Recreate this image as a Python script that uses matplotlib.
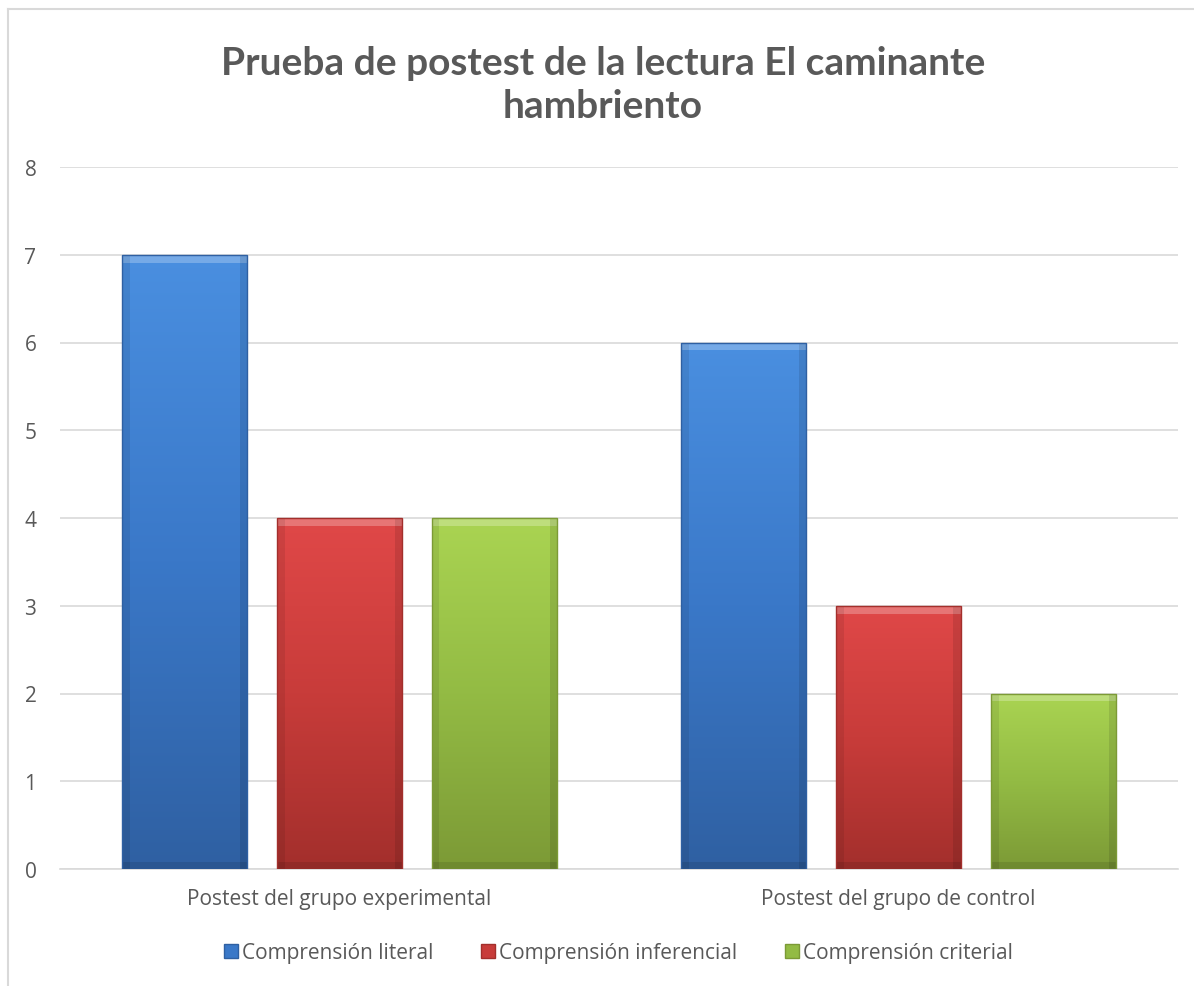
import numpy as np
import matplotlib
matplotlib.use("Agg")
import matplotlib.pyplot as plt
from matplotlib.patches import Rectangle, Patch
from matplotlib.lines import Line2D
import matplotlib.colors as mcolors

categories = ["Postest del grupo experimental", "Postest del grupo de control"]
series_names = ["Comprensión literal", "Comprensión inferencial", "Comprensión criterial"]
literal = [7, 6]
inferencial = [4, 3]
criterial = [4, 2]
series_values = [literal, inferencial, criterial]

top_colors = ["#4a8fe0", "#e04848", "#aad452"]
mid_colors = ["#3a78c8", "#c83c3a", "#93bb44"]
bottom_colors = ["#2f60a2", "#a32f2c", "#7c9a36"]

plt.rcParams['font.family'] = ['Open Sans', 'DejaVu Sans']

fig = plt.figure(figsize=(11.94, 9.87), dpi=100)

# chart frame (only left and top edges are visible in the crop)
fig.lines.append(Line2D([8 / 1194, 8 / 1194], [0, 1 - 10 / 987], transform=fig.transFigure,
                        color="#d9d9d9", linewidth=1.5))
fig.lines.append(Line2D([8 / 1194, 1], [1 - 10 / 987, 1 - 10 / 987], transform=fig.transFigure,
                        color="#d9d9d9", linewidth=1.5))

ax = fig.add_axes([60 / 1194, (987 - 870) / 987, 1118 / 1194, (870 - 168) / 987])
ax.set_xlim(0, 2)
ax.set_ylim(0, 8)

bar_w = 125 / 559
step = 155 / 559
x = np.arange(len(categories)) + 0.5


def gradient_bar(ax, x0, w, h, ctop, cmid, cbot):
    rect = Rectangle((x0, 0), w, h, facecolor=cmid, edgecolor="none", zorder=3)
    ax.add_patch(rect)
    cmap = mcolors.LinearSegmentedColormap.from_list("g", [cbot, cmid, ctop])
    grad = np.linspace(0, 1, 256).reshape(-1, 1)
    im = ax.imshow(grad, extent=(x0, x0 + w, 0, h), origin="lower", aspect="auto",
                   cmap=cmap, zorder=3.1)
    im.set_clip_path(rect)
    # bevel look
    ax.add_patch(Rectangle((x0, h - 0.09), w, 0.09, facecolor="white", alpha=0.25,
                           edgecolor="none", zorder=3.2))
    ax.add_patch(Rectangle((x0, 0), w * 0.06, h, facecolor="black", alpha=0.08,
                           edgecolor="none", zorder=3.2))
    ax.add_patch(Rectangle((x0 + w * 0.94, 0), w * 0.06, h, facecolor="black", alpha=0.1,
                           edgecolor="none", zorder=3.2))
    ax.add_patch(Rectangle((x0, 0), w, 0.08, facecolor="black", alpha=0.1,
                           edgecolor="none", zorder=3.2))
    ax.add_patch(Rectangle((x0, 0), w, h, fill=False, edgecolor=cbot, linewidth=1,
                           zorder=3.3))


for i, vals in enumerate(series_values):
    for j, v in enumerate(vals):
        x0 = x[j] + (i - 1) * step - bar_w / 2
        gradient_bar(ax, x0, bar_w, v, top_colors[i], mid_colors[i], bottom_colors[i])

ax.set_yticks(range(0, 9))
ax.yaxis.grid(True, color="#d9d9d9", linewidth=1.2)
ax.set_axisbelow(True)
ax.set_xticks(x)
ax.set_xticklabels(categories)
for s in ["top", "right", "left"]:
    ax.spines[s].set_visible(False)
ax.spines["bottom"].set_color("#d9d9d9")
ax.spines["bottom"].set_linewidth(1.2)
ax.tick_params(axis="both", length=0, labelsize=15, colors="#595959")
ax.tick_params(axis="x", pad=14)
ax.tick_params(axis="y", pad=17)

fig.text(0.505, 1 - 85 / 987, "Prueba de postest de la lectura El caminante\nhambriento",
         ha="center", va="center", fontsize=28, fontweight="bold", color="#595959",
         linespacing=1.3, family=["Lato", "DejaVu Sans"])

handles = [Patch(facecolor=mid_colors[i], edgecolor=bottom_colors[i]) for i in range(3)]
fig.legend(handles, series_names, loc="center", bbox_to_anchor=(0.518, 1 - 954 / 987),
           ncol=3, frameon=False, fontsize=15, handlelength=0.65, handleheight=0.65,
           handletextpad=0.2, columnspacing=2.3, labelcolor="#595959")

fig.savefig("out.png", dpi=100)
